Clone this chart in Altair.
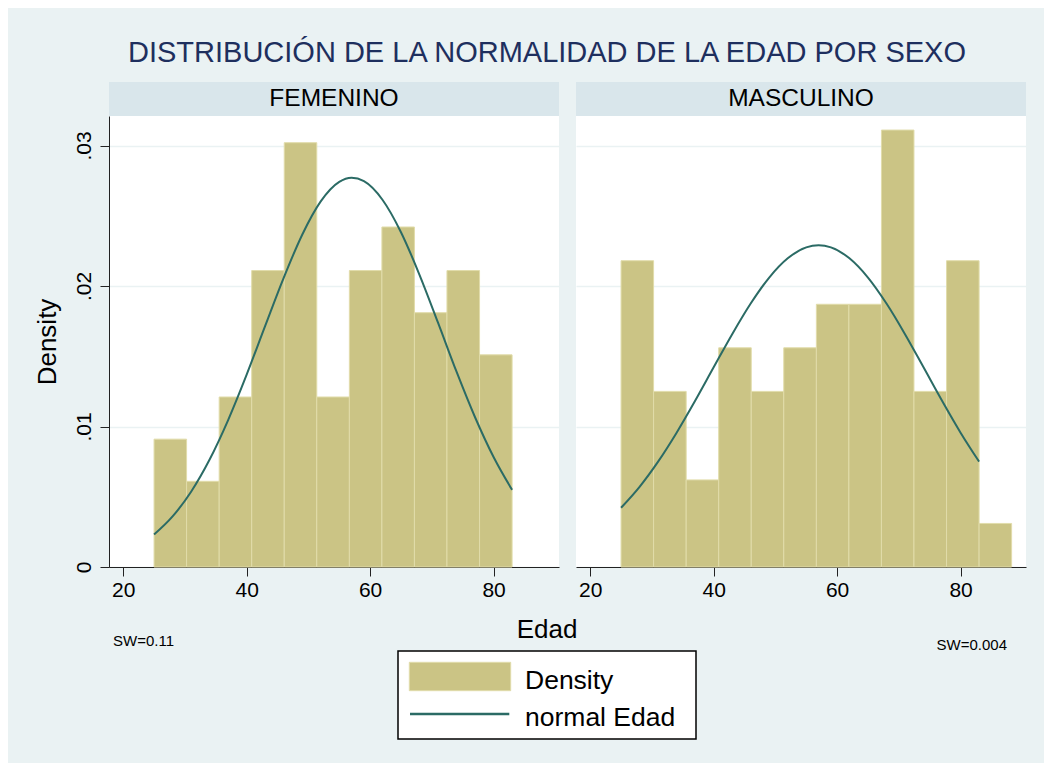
import altair as alt
import pandas as pd

# ---------------- data ----------------
panels = ["FEMENINO", "MASCULINO"]
bin_edges = [25.0, 30.27, 35.55, 40.82, 46.09, 51.36, 56.64, 61.91, 67.18, 72.45, 77.73, 83.0, 88.27]
fem_density = [0.0091, 0.0061, 0.0121, 0.0211, 0.0302, 0.0121, 0.0211, 0.0242, 0.0181, 0.0211, 0.0151]
masc_density = [0.0218, 0.0125, 0.0062, 0.0156, 0.0125, 0.0156, 0.0187, 0.0187, 0.0311, 0.0125, 0.0218, 0.0031]

curve_x = [25, 28, 31, 34, 37, 40, 43, 46, 49, 52, 55, 57, 59, 62, 65, 68, 71, 74, 77, 80, 83]
fem_curve = [0.00231, 0.00360, 0.00536, 0.00765, 0.01046, 0.01369, 0.01716, 0.02058, 0.02365, 0.02602,
             0.02741, 0.02770, 0.02746, 0.02614, 0.02383, 0.02080, 0.01739, 0.01390, 0.01066, 0.00783, 0.00549]
masc_curve = [0.00422, 0.00571, 0.00750, 0.00956, 0.01183, 0.01421, 0.01657, 0.01875, 0.02060, 0.02197,
              0.02275, 0.02290, 0.02275, 0.02197, 0.02060, 0.01875, 0.01657, 0.01421, 0.01183, 0.00956, 0.00750]

x_ticks = [20, 40, 60, 80]
y_ticks = [0, 0.01, 0.02, 0.03]

title_text = "DISTRIBUCIÓN DE LA NORMALIDAD DE LA EDAD POR SEXO"
x_title = "Edad"
y_title = "Density"
notes = ["SW=0.11", "SW=0.004"]
legend_labels = ["Density", "normal Edad"]

# ---------------- styles ----------------
FONT = "Liberation Sans"
BG = "#EAF2F3"
STRIP = "#D9E6EB"
BAR = "#CBC485"
BAR_EDGE = "#E1DCAA"
LINE = "#2B6B65"
TITLE_C = "#1E2F5E"
AXIS_C = "#222222"
GRID_C = "#EAF2F3"

W, H, STRIP_H = 450, 451, 34
SIDE_W = 2 * W + 17   # header / bottom strips aligned with the plot views

dummy = pd.DataFrame({"a": [0]})


def panel(dens, curve, name, first):
    xsc = alt.Scale(domain=[17.7, 90.6], nice=False, zero=False)
    ysc = alt.Scale(domain=[0, 0.0321], nice=False)
    xaxis = alt.Axis(values=x_ticks, title=None, grid=False, labelFontSize=21, labelFont=FONT,
                     labelColor="black", tickSize=9, tickColor=AXIS_C, domainColor=AXIS_C,
                     labelPadding=3, tickWidth=1, domainWidth=1)
    if first:
        yaxis = alt.Axis(values=y_ticks, title=y_title, grid=True, gridColor=GRID_C, gridWidth=1.5,
                         labelExpr="datum.value == 0 ? '0' : replace(format(datum.value, '.2f'), '0.', '.')",
                         labelAngle=270, labelAlign="center", labelBaseline="bottom",
                         labelFontSize=21, labelFont=FONT, labelColor="black", labelPadding=6,
                         tickSize=9, tickColor=AXIS_C, domainColor=AXIS_C,
                         titleFont=FONT, titleFontSize=26, titleFontWeight="normal",
                         titleColor="black", titlePadding=13)
    else:
        yaxis = alt.Axis(values=y_ticks, title=None, grid=True, gridColor=GRID_C, gridWidth=1.5,
                         labels=False, ticks=False, domain=False)
    bdf = pd.DataFrame({
        "x0": bin_edges[:len(dens)],
        "x1": bin_edges[1:len(dens) + 1],
        "density": dens,
        "base": [0.0] * len(dens),
    })
    bars = alt.Chart(bdf).mark_rect(fill=BAR, stroke=BAR_EDGE, strokeWidth=1).encode(
        x=alt.X("x0:Q", scale=xsc, axis=xaxis),
        x2="x1:Q",
        y=alt.Y("density:Q", scale=ysc, axis=yaxis),
        y2="base:Q",
    )
    cdf = pd.DataFrame({"x": curve_x, "y": curve})
    line = alt.Chart(cdf).mark_line(color=LINE, strokeWidth=2, interpolate="monotone").encode(
        x=alt.X("x:Q", scale=xsc),
        y=alt.Y("y:Q", scale=ysc),
    )
    strip_bg = alt.Chart(dummy).mark_rect(fill=STRIP, strokeWidth=0).encode(
        x=alt.value(0), x2=alt.value(W), y=alt.value(-STRIP_H), y2=alt.value(0))
    strip_tx = alt.Chart(pd.DataFrame({"p": [name]})).mark_text(
        font=FONT, fontSize=24.5, color="black", align="center", baseline="alphabetic"
    ).encode(text="p:N", x=alt.value(W / 2), y=alt.value(-10.3))
    return alt.layer(bars, line, strip_bg, strip_tx).properties(
        width=W, height=H, view=alt.ViewBackground(fill="white", stroke=None))


plotF = panel(fem_density, fem_curve, panels[0], True)
plotM = panel(masc_density, masc_curve, panels[1], False)
row = alt.hconcat(plotF, plotM, spacing=17)

header = alt.Chart(dummy).mark_text(
    text=title_text, font=FONT, fontSize=29, color=TITLE_C, align="center", baseline="alphabetic"
).encode(x=alt.value(438), y=alt.value(54.3)).properties(
    width=SIDE_W, height=74, view=alt.ViewBackground(fill=None, stroke=None))


def txt(s, x, y, size, align):
    return alt.Chart(dummy).mark_text(text=s, font=FONT, fontSize=size, color="black",
                                      align=align, baseline="alphabetic").encode(
        x=alt.value(x), y=alt.value(y))


b_edad = txt(x_title, 438, 38, 26, "center")
b_sw1 = txt(notes[0], 4, 46, 15, "left")
b_sw2 = txt(notes[1], 898, 50.4, 15, "right")
b_box = alt.Chart(dummy).mark_rect(fill="white", stroke="black", strokeWidth=1.5).encode(
    x=alt.value(289), x2=alt.value(587), y=alt.value(51), y2=alt.value(139))
b_swatch = alt.Chart(dummy).mark_rect(fill=BAR, stroke=BAR_EDGE, strokeWidth=1).encode(
    x=alt.value(300.3), x2=alt.value(401.7), y=alt.value(62.3), y2=alt.value(90.7))
b_line = alt.Chart(dummy).mark_rule(color=LINE, strokeWidth=2.5).encode(
    x=alt.value(301), x2=alt.value(400.3), y=alt.value(114))
b_l1 = txt(legend_labels[0], 416, 89, 26.5, "left")
b_l2 = txt(legend_labels[1], 416, 125.7, 26.5, "left")

bottom = alt.layer(b_edad, b_sw1, b_sw2, b_box, b_swatch, b_line, b_l1, b_l2).properties(
    width=SIDE_W, height=163, view=alt.ViewBackground(fill=None, stroke=None))

chart = alt.vconcat(header, row, bottom, spacing=0).properties(
    background=BG,
    padding={"left": 26, "top": 0, "right": 18, "bottom": 0},
).configure_view(stroke=None)

chart.save("out.html", embed_options={"renderer": "svg", "actions": False})
